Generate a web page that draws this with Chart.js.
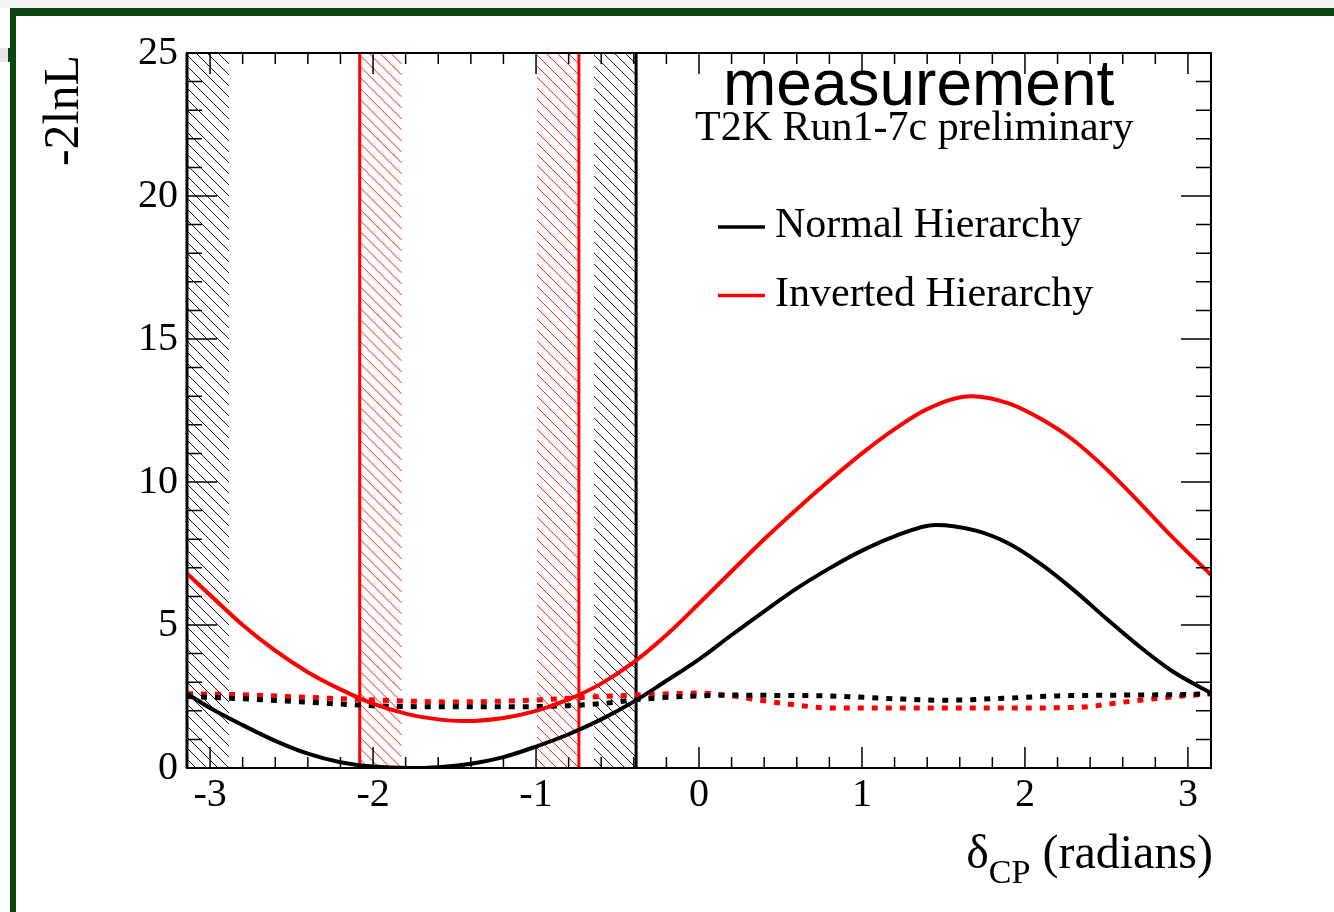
<!DOCTYPE html>
<html>
<head>
<meta charset="utf-8">
<script src="https://cdn.jsdelivr.net/npm/chart.js@4.4.1/dist/chart.umd.min.js"></script>
<style>
  html, body { margin: 0; padding: 0; background: #ffffff; }
  canvas { display: block; }
</style>
</head>
<body>
<canvas id="llh" width="1334" height="912"></canvas>
<script>
// -2lnL profile versus delta_CP for each mass hierarchy
const NH_DELTA = [-3.1416, -3.0, -2.8, -2.6, -2.4, -2.2, -2.0, -1.78, -1.6, -1.4, -1.2, -1.0, -0.8, -0.6, -0.4, -0.2, 0.0, 0.2, 0.4, 0.6, 0.8, 1.0, 1.2, 1.45, 1.7, 1.9, 2.1, 2.3, 2.5, 2.7, 2.9, 3.1416];
const NH_LLH   = [2.6, 2.1, 1.5, 0.95, 0.5, 0.2, 0.05, 0.0, 0.03, 0.15, 0.38, 0.75, 1.18, 1.7, 2.32, 3.05, 3.8, 4.65, 5.48, 6.28, 6.98, 7.6, 8.1, 8.5, 8.3, 7.85, 7.12, 6.22, 5.22, 4.26, 3.4, 2.62];

const IH_DELTA = [-3.1416, -3.0, -2.8, -2.6, -2.4, -2.2, -2.0, -1.8, -1.6, -1.45, -1.2, -1.0, -0.8, -0.6, -0.4, -0.2, 0.0, 0.2, 0.4, 0.6, 0.8, 1.0, 1.2, 1.4, 1.67, 1.9, 2.1, 2.3, 2.5, 2.7, 2.9, 3.1416];
const IH_LLH   = [6.8, 6.05, 5.0, 4.1, 3.35, 2.75, 2.25, 1.9, 1.7, 1.64, 1.75, 2.0, 2.4, 2.95, 3.7, 4.65, 5.75, 6.88, 8.0, 9.05, 10.05, 11.0, 11.85, 12.55, 13.0, 12.75, 12.2, 11.45, 10.45, 9.3, 8.1, 6.75];

// 90% CL critical values (dashed)
const NH_CRIT_DELTA = [-3.1416, -2.8, -2.4, -2.0, -1.6, -1.2, -0.8, -0.6, -0.4, -0.2, 0.0, 0.2, 0.4, 0.8, 1.2, 1.5, 1.8, 2.2, 2.6, 3.0, 3.1416];
const NH_CRIT       = [2.5, 2.42, 2.3, 2.18, 2.14, 2.14, 2.18, 2.25, 2.38, 2.47, 2.52, 2.55, 2.54, 2.52, 2.42, 2.37, 2.42, 2.52, 2.55, 2.57, 2.6];

const IH_CRIT_DELTA = [-3.1416, -2.8, -2.4, -2.0, -1.5, -1.0, -0.6, -0.3, 0.0, 0.2, 0.4, 0.6, 0.8, 1.2, 1.6, 2.0, 2.35, 2.6, 2.9, 3.1416];
const IH_CRIT       = [2.6, 2.56, 2.47, 2.38, 2.31, 2.38, 2.5, 2.57, 2.62, 2.52, 2.35, 2.2, 2.1, 2.1, 2.1, 2.1, 2.13, 2.3, 2.48, 2.6];

// 90% CL allowed intervals
const NH_INTERVAL = [-3.1416, -0.386];
const IH_INTERVAL = [-2.082, -0.737];

const X_TICKS = [-3, -2, -1, 0, 1, 2, 3];
const Y_TICKS = [0, 5, 10, 15, 20, 25];
const SERIES_LABELS = ['Normal Hierarchy', 'Inverted Hierarchy'];

const SERIF = '"Liberation Serif", "Times New Roman", serif';
const SANS = '"Liberation Sans", Arial, sans-serif';
const RED = '#ff0000';
const BLACK = '#000000';

const pairs = (xs, ys) => xs.map((x, i) => ({ x: x, y: ys[i] }));

// page frame around the canvas
const pageFrame = {
  id: 'pageFrame',
  beforeDraw(chart) {
    const c = chart.ctx;
    c.save();
    c.fillStyle = '#ffffff';
    c.fillRect(0, 0, chart.width, chart.height);
    c.fillStyle = '#f2f2f2';
    c.fillRect(0, 0, chart.width, 8);
    c.fillStyle = '#e6e6e6';
    c.fillRect(0, 48, 8, 14);
    c.fillStyle = '#0c4713';
    c.fillRect(10, 8, chart.width - 10, 8);
    c.fillRect(10, 8, 6, chart.height - 8);
    c.fillRect(8, 48, 2, 14);
    c.restore();
  }
};

// hatched 90% CL bands with their boundary lines
const HATCH_W = 42;
const HATCH_STEP = 11;
function hatch(c, area, x0, x1, color) {
  c.save();
  c.beginPath();
  c.rect(x0, area.top, x1 - x0, area.bottom - area.top);
  c.clip();
  c.strokeStyle = color;
  c.lineWidth = 0.9;
  c.beginPath();
  const w = x1 - x0;
  for (let y = area.top - w; y < area.bottom + 2; y += HATCH_STEP) {
    c.moveTo(x0, y);
    c.lineTo(x1, y + w);
  }
  c.stroke();
  c.restore();
}
const intervalBands = {
  id: 'intervalBands',
  beforeDatasetsDraw(chart) {
    const c = chart.ctx, a = chart.chartArea, xs = chart.scales.x;
    const bands = [[NH_INTERVAL, BLACK], [IH_INTERVAL, RED]];
    bands.forEach(([iv, color]) => {
      const xl = xs.getPixelForValue(iv[0]);
      const xh = xs.getPixelForValue(iv[1]);
      hatch(c, a, xl, xl + HATCH_W, color);
      hatch(c, a, xh - HATCH_W, xh, color);
      c.save();
      c.strokeStyle = color;
      c.lineWidth = 3;
      [xl, xh].forEach(x => {
        c.beginPath();
        c.moveTo(x, a.top);
        c.lineTo(x, a.bottom);
        c.stroke();
      });
      c.restore();
    });
  }
};

// box frame with inward ticks on all four sides
const frameTicks = {
  id: 'frameTicks',
  afterDatasetsDraw(chart) {
    const c = chart.ctx, a = chart.chartArea, xs = chart.scales.x, ys = chart.scales.y;
    c.save();
    c.strokeStyle = BLACK;
    c.lineWidth = 1.5;
    c.beginPath();
    for (let k = Math.ceil(xs.min / 0.2 - 1e-6); k <= Math.floor(xs.max / 0.2 + 1e-6); k++) {
      const v = k * 0.2;
      const major = Math.abs(v - Math.round(v)) < 1e-6;
      const len = major ? 21 : 11;
      const px = xs.getPixelForValue(v);
      c.moveTo(px, a.bottom); c.lineTo(px, a.bottom - len);
      c.moveTo(px, a.top); c.lineTo(px, a.top + len);
    }
    for (let v = ys.min; v <= ys.max; v += 1) {
      const major = v % 5 === 0;
      const len = major ? 30 : 15;
      const py = ys.getPixelForValue(v);
      c.moveTo(a.left, py); c.lineTo(a.left + len, py);
      c.moveTo(a.right, py); c.lineTo(a.right - len, py);
    }
    c.stroke();
    c.lineWidth = 2;
    c.strokeRect(a.left, a.top, a.right - a.left, a.bottom - a.top);
    c.restore();
  }
};

// titles, caption and legend
const annotations = {
  id: 'annotations',
  afterDraw(chart) {
    const c = chart.ctx;
    c.save();
    c.fillStyle = BLACK;
    c.textAlign = 'left';
    c.textBaseline = 'alphabetic';
    c.font = '64px ' + SANS;
    c.fillText('measurement', 723, 105);
    c.font = '42px ' + SERIF;
    c.fillText('T2K Run1-7c preliminary', 695, 140);

    // legend
    const items = chart.data.datasets.filter(d => d.inLegend);
    items.forEach((ds, i) => {
      const yb = 237 + i * 68.5;
      c.strokeStyle = ds.borderColor;
      c.lineWidth = 3.5;
      c.beginPath();
      c.moveTo(718, yb - 10);
      c.lineTo(765, yb - 10);
      c.stroke();
      c.fillStyle = BLACK;
      c.font = '42px ' + SERIF;
      c.fillText(ds.label, 775, yb);
    });

    // x-axis title with subscript
    const parts = [['\u03b4', 48, 0], ['CP', 34, 15], [' (radians)', 48, 0]];
    let total = 0;
    parts.forEach(p => { c.font = p[1] + 'px ' + SERIF; total += c.measureText(p[0]).width; });
    let x = 1213 - total;
    parts.forEach(p => {
      c.font = p[1] + 'px ' + SERIF;
      c.fillText(p[0], x, 868 + p[2]);
      x += c.measureText(p[0]).width;
    });

    // y-axis title
    c.translate(78, 55);
    c.rotate(-Math.PI / 2);
    c.textAlign = 'right';
    c.font = '50px ' + SERIF;
    c.fillText('-2lnL', 0, 0);
    c.restore();
  }
};

new Chart(document.getElementById('llh'), {
  type: 'scatter',
  data: {
    datasets: [
      { label: SERIES_LABELS[0], data: pairs(NH_DELTA, NH_LLH), borderColor: BLACK, borderWidth: 4,
        showLine: true, pointRadius: 0, cubicInterpolationMode: 'monotone', inLegend: true, order: 1 },
      { label: SERIES_LABELS[1], data: pairs(IH_DELTA, IH_LLH), borderColor: RED, borderWidth: 4,
        showLine: true, pointRadius: 0, cubicInterpolationMode: 'monotone', inLegend: true, order: 1 },
      { label: 'NH 90% critical value', data: pairs(NH_CRIT_DELTA, NH_CRIT), borderColor: BLACK, borderWidth: 5,
        borderDash: [6, 8], showLine: true, pointRadius: 0, cubicInterpolationMode: 'monotone', order: 2 },
      { label: 'IH 90% critical value', data: pairs(IH_CRIT_DELTA, IH_CRIT), borderColor: RED, borderWidth: 5,
        borderDash: [6, 8], showLine: true, pointRadius: 0, cubicInterpolationMode: 'monotone', order: 2 }
    ]
  },
  options: {
    responsive: false,
    animation: false,
    devicePixelRatio: 1,
    events: [],
    layout: { padding: { top: 53, right: 123, left: 0, bottom: 0 } },
    plugins: { legend: { display: false }, tooltip: { enabled: false } },
    scales: {
      x: {
        type: 'linear', min: -Math.PI, max: Math.PI,
        afterBuildTicks: s => { s.ticks = X_TICKS.map(v => ({ value: v })); },
        afterFit: s => { s.height = 144; },
        grid: { display: false, drawTicks: false },
        border: { display: false },
        ticks: { font: { family: SERIF, size: 40 }, color: BLACK, padding: 3, maxRotation: 0, autoSkip: false,
                 callback: v => String(v) }
      },
      y: {
        type: 'linear', min: 0, max: 25,
        afterBuildTicks: s => { s.ticks = Y_TICKS.map(v => ({ value: v })); },
        afterFit: s => { s.width = 187; },
        grid: { display: false, drawTicks: false },
        border: { display: false },
        ticks: { font: { family: SERIF, size: 40 }, color: BLACK, padding: 9, autoSkip: false,
                 callback: v => String(v) }
      }
    }
  },
  plugins: [pageFrame, intervalBands, frameTicks, annotations]
});
</script>
</body>
</html>
